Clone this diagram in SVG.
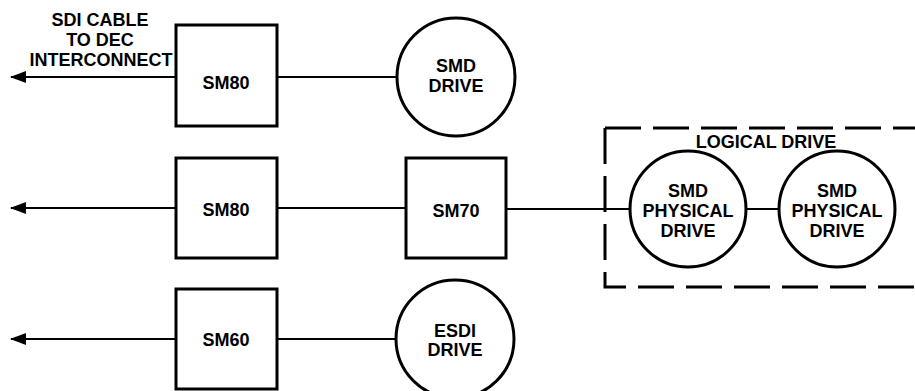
<svg xmlns="http://www.w3.org/2000/svg" width="915" height="391" viewBox="0 0 915 391">
<defs>
<style>
.box{fill:#fff;stroke:#000;stroke-width:3}
.circ{fill:#fff;stroke:#000;stroke-width:3}
.ln{stroke:#000;stroke-width:2;fill:none}
.dash{stroke:#000;stroke-width:3;fill:none;stroke-dasharray:36 12}
text{font-family:"Liberation Sans",Arial,Helvetica,sans-serif;font-weight:bold;font-size:18px;fill:#000;text-anchor:middle}
</style>
<marker id="arr" viewBox="0 0 16 12" refX="15" refY="6" markerWidth="16" markerHeight="12" markerUnits="userSpaceOnUse" orient="auto">
<path d="M0,0 L16,6 L0,12 Z" fill="#000"/>
</marker>
</defs>
<rect width="915" height="391" fill="#fff"/>
<g id="connectors">
<line class="ln" x1="176" y1="77" x2="11" y2="77" marker-end="url(#arr)"/>
<line class="ln" x1="277" y1="77" x2="397" y2="77"/>
<line class="ln" x1="176" y1="208" x2="11" y2="208" marker-end="url(#arr)"/>
<line class="ln" x1="277" y1="208" x2="406" y2="208"/>
<line class="ln" x1="506" y1="209" x2="631" y2="209"/>
<line class="ln" x1="745" y1="209" x2="780" y2="209"/>
<line class="ln" x1="176" y1="339" x2="11" y2="339" marker-end="url(#arr)"/>
<line class="ln" x1="277" y1="339" x2="396" y2="339"/>
</g>
<g id="logical-drive">
<path class="dash" d="M605,128 H920"/>
<path class="dash" d="M605,128 V287 H920"/>
<text x="766" y="148">LOGICAL DRIVE</text>
</g>
<g id="cable-label">
<text x="100" y="26">SDI CABLE</text>
<text x="100" y="46">TO DEC</text>
<text x="101" y="66">INTERCONNECT</text>
</g>
<g id="sm80-top">
<rect class="box" x="176" y="25" width="101" height="101"/>
<text x="226" y="89">SM80</text>
</g>
<g id="smd-drive">
<circle class="circ" cx="456" cy="77" r="59"/>
<text x="456" y="72">SMD</text>
<text x="456" y="92">DRIVE</text>
</g>
<g id="sm80-mid">
<rect class="box" x="176" y="158" width="101" height="100"/>
<text x="226" y="216">SM80</text>
</g>
<g id="sm70">
<rect class="box" x="406" y="158" width="100" height="100"/>
<text x="456" y="217">SM70</text>
</g>
<g id="phys-drive-1">
<circle class="circ" cx="688" cy="209" r="58"/>
<text x="688" y="197">SMD</text>
<text x="688" y="217">PHYSICAL</text>
<text x="688" y="237">DRIVE</text>
</g>
<g id="phys-drive-2">
<circle class="circ" cx="837" cy="209" r="58"/>
<text x="837" y="197">SMD</text>
<text x="837" y="217">PHYSICAL</text>
<text x="837" y="237">DRIVE</text>
</g>
<g id="sm60">
<rect class="box" x="176" y="289" width="101" height="100"/>
<text x="226" y="346">SM60</text>
</g>
<g id="esdi-drive">
<circle class="circ" cx="455" cy="339" r="59"/>
<text x="455" y="337">ESDI</text>
<text x="455" y="356">DRIVE</text>
</g>
</svg>
